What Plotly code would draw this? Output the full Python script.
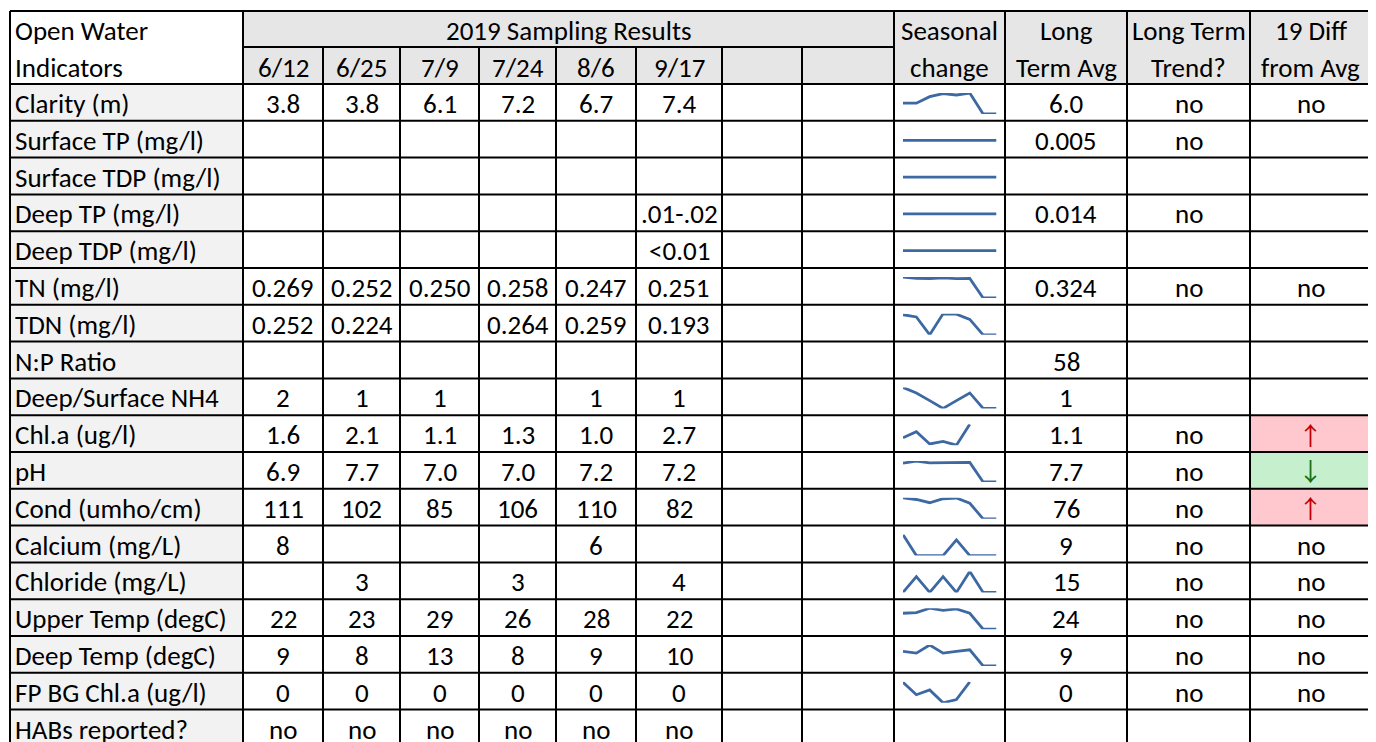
import plotly.graph_objects as go

W, H = 1376, 742
OFF = 8  # default page margin of the html body

# ---------------- data ----------------
dates = ["6/12", "6/25", "7/9", "7/24", "8/6", "9/17", "", ""]

indicators = [
    "Clarity (m)", "Surface TP (mg/l)", "Surface TDP (mg/l)", "Deep TP (mg/l)",
    "Deep TDP (mg/l)", "TN (mg/l)", "TDN (mg/l)", "N:P Ratio", "Deep/Surface NH4",
    "Chl.a (ug/l)", "pH", "Cond (umho/cm)", "Calcium (mg/L)", "Chloride (mg/L)",
    "Upper Temp (degC)", "Deep Temp (degC)", "FP BG Chl.a (ug/l)", "HABs reported?",
]

results = [
    ["3.8", "3.8", "6.1", "7.2", "6.7", "7.4"],
    ["", "", "", "", "", ""],
    ["", "", "", "", "", ""],
    ["", "", "", "", "", ".01-.02"],
    ["", "", "", "", "", "<0.01"],
    ["0.269", "0.252", "0.250", "0.258", "0.247", "0.251"],
    ["0.252", "0.224", "", "0.264", "0.259", "0.193"],
    ["", "", "", "", "", ""],
    ["2", "1", "1", "", "1", "1"],
    ["1.6", "2.1", "1.1", "1.3", "1.0", "2.7"],
    ["6.9", "7.7", "7.0", "7.0", "7.2", "7.2"],
    ["111", "102", "85", "106", "110", "82"],
    ["8", "", "", "", "6", ""],
    ["", "3", "", "3", "", "4"],
    ["22", "23", "29", "26", "28", "22"],
    ["9", "8", "13", "8", "9", "10"],
    ["0", "0", "0", "0", "0", "0"],
    ["no", "no", "no", "no", "no", "no"],
]

long_term_avg = ["6.0", "0.005", "", "0.014", "", "0.324", "", "58", "1", "1.1",
                 "7.7", "76", "9", "15", "24", "9", "0", ""]
long_term_trend = ["no", "no", "", "no", "", "no", "", "", "", "no",
                   "no", "no", "no", "no", "no", "no", "no", ""]
diff_from_avg = ["no", "", "", "", "", "no", "", "", "", "up",
                 "down", "up", "no", "no", "no", "no", "no", ""]

# seasonal-change sparkline values (blank sampling cells plotted as 0)
seasonal = [
    [3.8, 3.8, 6.1, 7.2, 6.7, 7.4, 0, 0],
    [0, 0, 0, 0, 0, 0, 0, 0],
    [0, 0, 0, 0, 0, 0, 0, 0],
    [0, 0, 0, 0, 0, 0, 0, 0],
    [0, 0, 0, 0, 0, 0, 0, 0],
    [0.269, 0.252, 0.250, 0.258, 0.247, 0.251, 0, 0],
    [0.252, 0.224, 0, 0.264, 0.259, 0.193, 0, 0],
    None,
    [1.9, 1.4, 0.7, 0, 0.7, 1.4, 0, 0],
    [1.6, 2.1, 1.1, 1.3, 1.0, 2.7],
    [6.9, 7.7, 7.0, 7.0, 7.2, 7.2, 0, 0],
    [111, 102, 85, 106, 110, 82, 0, 0],
    [8, 0, 0, 0, 6, 0, 0, 0],
    [0, 3, 0, 3, 0, 4, 0, 0],
    [22, 23, 29, 26, 28, 22, 0, 0],
    [9, 8, 13, 8, 9, 10, 0, 0],
    [0.38, 0.15, 0.24, 0.0, 0.06, 0.39],
    None,
]

# ---------------- layout geometry ----------------
XS = [10, 243, 323, 400, 479, 556, 636, 722, 802, 894, 1005, 1127, 1250, 1371]
Y_TOP, Y_MID, Y_HEAD, ROW_H = 11, 47, 84, 36.8

FONT = "Carlito, Lato, 'Open Sans', sans-serif"
FS = 27
HEAD_FILL = "#e7e6e6"
LABEL_FILL = "#f2f2f2"
SPARK_COLOR = "#3d69a3"
ARROW_FONT = "'Noto Sans CJK SC', 'DejaVu Sans', sans-serif"

FW, FH = W - OFF, H - OFF

fig = go.Figure()
shapes = []
annotations = []


def rect(x0, y0, x1, y1, fill):
    shapes.append(dict(type="rect", xref="x", yref="y", x0=x0, x1=x1, y0=y0, y1=y1,
                       fillcolor=fill, line=dict(width=0), layer="below"))


def line(x0, y0, x1, y1, w=2):
    shapes.append(dict(type="line", xref="x", yref="y", x0=x0, x1=x1, y0=y0, y1=y1,
                       line=dict(color="#000000", width=w), layer="above"))


def text(x, y, s, anchor="center", color="#000000", size=FS, family=FONT):
    annotations.append(dict(x=x, y=y, xref="x", yref="y", text=s, showarrow=False,
                            xanchor=anchor, yanchor="middle",
                            font=dict(family=family, size=size, color=color)))


n_rows = len(indicators)
row_tops = [Y_HEAD + i * ROW_H for i in range(n_rows)]
y_bottom = row_tops[-1] + ROW_H

# fills
rect(XS[1], Y_TOP, XS[9], Y_HEAD, HEAD_FILL)
rect(XS[9], Y_TOP, XS[13], Y_HEAD, HEAD_FILL)
for i, t in enumerate(row_tops):
    rect(XS[0], t, XS[1], t + ROW_H, LABEL_FILL)
    if diff_from_avg[i] == "up":
        rect(XS[12], t, XS[13], t + ROW_H, "#ffc7ce")
    elif diff_from_avg[i] == "down":
        rect(XS[12], t, XS[13], t + ROW_H, "#c6efce")

# grid lines
line(XS[0], Y_TOP, XS[13], Y_TOP)
line(XS[1], Y_MID, XS[9], Y_MID)
line(XS[0], Y_HEAD, XS[13], Y_HEAD)
for t in row_tops[1:]:
    line(XS[0], t, XS[13], t)
for j, x in enumerate(XS):
    y0 = Y_MID if 2 <= j <= 8 else Y_TOP
    line(x, y0, x, y_bottom)

# header text
yc1 = (Y_TOP + Y_MID) / 2 + 1.5
yc2 = (Y_MID + Y_HEAD) / 2 + 1.5
text(XS[0] + 3, yc1, "Open Water", anchor="left")
text(XS[0] + 3, yc2, "Indicators", anchor="left")
text((XS[1] + XS[9]) / 2, yc1, "2019 Sampling Results")
for j, d in enumerate(dates):
    if d:
        text((XS[1 + j] + XS[2 + j]) / 2, yc2, d)
heads = [("Seasonal", "change"), ("Long", "Term Avg"), ("Long Term", "Trend?"), ("19 Diff", "from Avg")]
for k, (a, b) in enumerate(heads):
    xc = (XS[9 + k] + XS[10 + k]) / 2
    text(xc, yc1, a)
    text(xc, yc2, b)

# body text
for i, t in enumerate(row_tops):
    yc = t + ROW_H / 2 + 1
    text(XS[0] + 3, yc, indicators[i], anchor="left")
    for j, v in enumerate(results[i]):
        if v:
            text((XS[1 + j] + XS[2 + j]) / 2, yc, v)
    if long_term_avg[i]:
        text((XS[10] + XS[11]) / 2, yc, long_term_avg[i])
    if long_term_trend[i]:
        text((XS[11] + XS[12]) / 2, yc, long_term_trend[i])
    d = diff_from_avg[i]
    xc = (XS[12] + XS[13]) / 2
    if d == "up":
        text(xc, t + ROW_H / 2, "↑", color="#c00000", family=ARROW_FONT, size=25)
    elif d == "down":
        text(xc, t + ROW_H / 2, "↓", color="#107010", family=ARROW_FONT, size=25)
    elif d:
        text(xc, yc, d)

# main (pixel) axes
layout = dict(
    width=FW, height=FH, margin=dict(l=0, r=0, t=0, b=0),
    paper_bgcolor="white", plot_bgcolor="rgba(0,0,0,0)", showlegend=False,
    xaxis=dict(range=[OFF, W], domain=[0, 1], showgrid=False, zeroline=False,
               showticklabels=False, ticks="", fixedrange=True),
    yaxis=dict(range=[H, OFF], domain=[0, 1], showgrid=False, zeroline=False,
               showticklabels=False, ticks="", fixedrange=True),
)


def px(xp):
    return (xp - OFF) / FW


def py(yp):
    return 1 - (yp - OFF) / FH


# sparklines: each in its own small subplot
SX0, SX1 = 903, 996.5
n_ax = 2
for i, vals in enumerate(seasonal):
    if vals is None:
        continue
    t = row_tops[i]
    ytop, ybot = t + 9, t + 30
    lo, hi = min(vals), max(vals)
    if hi == lo:
        lo, hi = lo - 1, hi + 1
    fig.add_trace(go.Scatter(x=list(range(len(vals))), y=vals, mode="lines",
                             line=dict(color=SPARK_COLOR, width=2.8),
                             xaxis=f"x{n_ax}", yaxis=f"y{n_ax}", hoverinfo="skip"))
    layout[f"xaxis{n_ax}"] = dict(domain=[px(SX0), px(SX1)], range=[0, 7], visible=False,
                                  fixedrange=True, anchor=f"y{n_ax}")
    layout[f"yaxis{n_ax}"] = dict(domain=[py(ybot), py(ytop)], range=[lo, hi],
                                  visible=False, fixedrange=True, anchor=f"x{n_ax}")
    n_ax += 1

# dummy trace to keep main axes
fig.add_trace(go.Scatter(x=[None], y=[None], xaxis="x", yaxis="y", hoverinfo="skip"))

layout["shapes"] = shapes
layout["annotations"] = annotations
fig.update_layout(**layout)
fig.write_html("out.html")
